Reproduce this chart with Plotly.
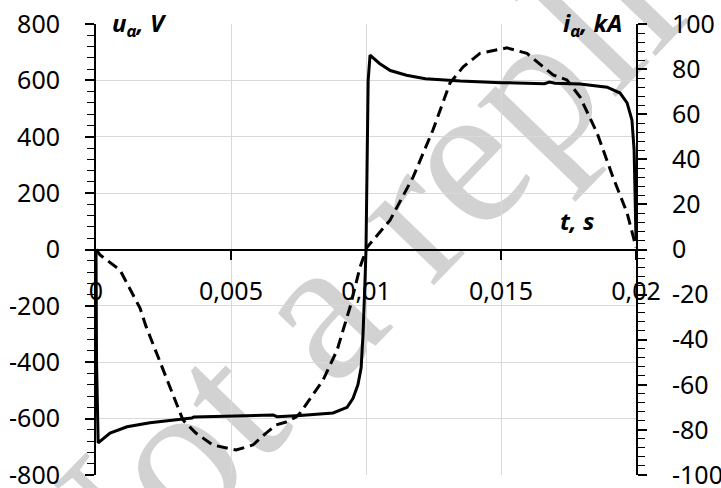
import plotly.graph_objects as go

# --- data ---------------------------------------------------------------
t_u = [0.0, 0.00002, 0.00008, 0.00052, 0.00115, 0.0020, 0.00322, 0.00355, 0.00362,
       0.00507, 0.00656, 0.00670, 0.00690, 0.00756, 0.00878, 0.00930, 0.00952,
       0.00970, 0.00982, 0.00989, 0.00996, 0.0100,
       0.01004, 0.01008, 0.01015, 0.0105, 0.0109, 0.0115, 0.0122, 0.0135,
       0.0150, 0.0166, 0.0168, 0.0170, 0.01793, 0.01893, 0.01941, 0.01967,
       0.01985, 0.01993, 0.01997, 0.0200]
u_alpha = [0, -400, -686, -651, -629, -615, -601, -598, -594,
           -590, -587, -593, -592, -589, -580, -560, -528,
           -480, -420, -300, -120, 0,
           300, 600, 690, 660, 635, 618, 606, 598,
           592, 588, 594, 590, 587, 576, 555, 520,
           459, 353, 175, 30]

t_i = [0.0, 0.00015, 0.00089, 0.00163, 0.00185, 0.00248, 0.00296, 0.00322, 0.0037,
       0.00433, 0.00519, 0.00581, 0.0063, 0.00667, 0.00704, 0.00741, 0.00756,
       0.00841, 0.00893, 0.00941, 0.00978, 0.01004, 0.01089, 0.01174, 0.01248,
       0.01311, 0.0136, 0.01422, 0.01522, 0.01596, 0.01656, 0.01693, 0.01744,
       0.01793, 0.01856, 0.01915, 0.01967, 0.01989, 0.0200]
i_alpha = [0, -2.4, -9.1, -26, -34, -53.4, -68, -75.6, -81.4,
           -86.7, -88.9, -86.7, -81.4, -77.8, -76.5, -74.3, -72.5,
           -57.9, -44.6, -25.5, -7.8, 1, 13, 32, 53,
           73.8, 81, 87, 89.4, 87, 81, 77.4, 75.2,
           67.6, 51.6, 32, 16.2, 5.5, 1]

x_ticks = [0, 0.005, 0.01, 0.015, 0.02]
x_tick_labels = ["0", "0,005", "0,01", "0,015", "0,02"]
y_ticks = [-800, -600, -400, -200, 0, 200, 400, 600, 800]
y_tick_labels = ["-800", "-600", "-400", "-200", "0", "200", "400", "600", "800"]
y2_ticks = [-100, -80, -60, -40, -20, 0, 20, 40, 60, 80, 100]
y2_tick_labels = ["-100", "-80", "-60", "-40", "-20", "0", "20", "40", "60", "80", "100"]

FONT = "Noto Sans"

fig = go.Figure()
fig.add_trace(go.Scatter(x=t_u, y=u_alpha, mode="lines",
                         line=dict(color="black", width=3), yaxis="y"))
fig.add_trace(go.Scatter(x=t_i, y=i_alpha, mode="lines",
                         line=dict(color="black", width=3, dash="11px,6px"), yaxis="y2"))

fig.update_layout(
    width=721, height=488,
    margin=dict(l=96, r=85, t=24, b=13, autoexpand=False),
    paper_bgcolor="white", plot_bgcolor="white",
    showlegend=False,
    font=dict(family=FONT, size=25, color="black"),
    xaxis=dict(
        range=[0, 0.02], tickvals=x_ticks, ticktext=x_tick_labels,
        anchor="free", position=0.5, automargin=False,
        showline=True, linecolor="black", linewidth=2,
        ticks="outside", ticklen=9, tickwidth=1.5, tickcolor="black",
        ticklabelstandoff=10, ticklabeloverflow="allow",
        showgrid=True, gridcolor="#d9d9d9", gridwidth=1.3,
        zeroline=False,
    ),
    yaxis=dict(
        range=[-800, 800], tickvals=y_ticks, ticktext=y_tick_labels,
        automargin=False,
        showline=True, linecolor="black", linewidth=2,
        ticks="outside", ticklen=9, tickwidth=1.5, tickcolor="black",
        ticklabelstandoff=20, ticklabeloverflow="allow",
        minor=dict(dtick=40, tick0=0, ticks="outside", ticklen=7, tickwidth=1.2,
                   tickcolor="black", showgrid=False),
        showgrid=True, gridcolor="#d9d9d9", gridwidth=1.3,
        zeroline=False,
    ),
    yaxis2=dict(
        range=[-100, 100], tickvals=y2_ticks, ticktext=y2_tick_labels,
        overlaying="y", side="right", anchor="x", automargin=False,
        showline=True, linecolor="black", linewidth=2,
        ticks="outside", ticklen=9, tickwidth=1.5, tickcolor="black",
        ticklabelstandoff=20, ticklabeloverflow="allow",
        minor=dict(dtick=4, tick0=0, ticks="outside", ticklen=7, tickwidth=1.2,
                   tickcolor="black", showgrid=False),
        showgrid=False, zeroline=False,
    ),
)

# watermark, drawn between gridlines and traces
fig.add_shape(type="rect", xref="paper", yref="paper",
              x0=0.527, x1=0.543, y0=0.59, y1=0.61,
              line=dict(width=0), fillcolor="rgba(0,0,0,0)", layer="between",
              label=dict(text="Not a replica", textangle=-46,
                         textposition="middle center",
                         font=dict(family="Liberation Serif", size=205, color="#d2d2d2")))

lab_font = dict(family=FONT, size=24, color="black")
fig.add_annotation(xref="paper", yref="paper", x=0.026, y=1.0, xanchor="left", yanchor="middle",
                   text="<b><i>u<sub>α</sub>, V</i></b>", showarrow=False, font=lab_font)
fig.add_annotation(xref="paper", yref="paper", x=0.977, y=1.0, xanchor="right", yanchor="middle",
                   text="<b><i>i<sub>α</sub>, kA</i></b>", showarrow=False, font=lab_font)
fig.add_annotation(xref="paper", yref="paper", x=0.925, y=0.565, xanchor="right", yanchor="middle",
                   text="<b><i>t, s</i></b>", showarrow=False, font=lab_font)

fig.write_html("out.html")
